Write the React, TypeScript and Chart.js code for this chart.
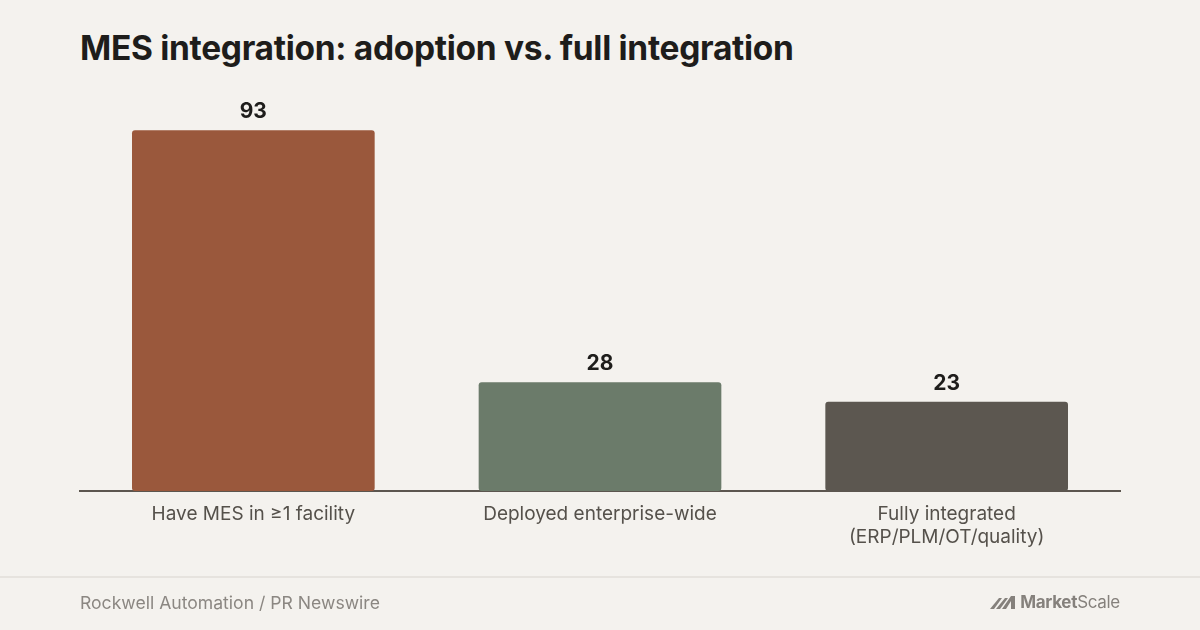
import React, { useEffect, useRef } from "react";
import { Chart, registerables } from "chart.js";

Chart.register(...registerables);

const categories: (string | string[])[] = [
  "Have MES in ≥1 facility",
  "Deployed enterprise-wide",
  ["Fully integrated", "(ERP/PLM/OT/quality)"],
];
const values: number[] = [93, 28, 23];
const barColors: string[] = ["#9A583C", "#6B7B6A", "#5C5750"];

const FONT = "Inter, 'Noto Sans', sans-serif";

const valueLabelPlugin = {
  id: "valueLabels",
  afterDatasetsDraw(chart: any) {
    const { ctx } = chart;
    const meta = chart.getDatasetMeta(0);
    ctx.save();
    ctx.font = `700 21px ${FONT}`;
    ctx.fillStyle = "#1E1D1B";
    ctx.textAlign = "center";
    ctx.textBaseline = "bottom";
    meta.data.forEach((bar: any, i: number) => {
      ctx.fillText(String(values[i]), bar.x, bar.y - 8);
    });
    ctx.restore();
  },
};

export default function App() {
  const canvasRef = useRef<HTMLCanvasElement | null>(null);

  useEffect(() => {
    document.body.style.margin = "0";
    const canvas = canvasRef.current;
    if (!canvas) return;
    const chart = new Chart(canvas, {
      type: "bar",
      data: {
        labels: categories,
        datasets: [
          {
            data: values,
            backgroundColor: barColors,
            borderRadius: 3,
            borderSkipped: false,
            barPercentage: 0.7,
            categoryPercentage: 1,
          },
        ],
      },
      options: {
        animation: false,
        responsive: false,
        maintainAspectRatio: false,
        layout: { padding: { left: 80, right: 80, top: 103, bottom: 0 } },
        plugins: {
          legend: { display: false },
          tooltip: { enabled: false },
          title: { display: false },
        },
        scales: {
          x: {
            grid: { display: false, drawTicks: false },
            border: { display: true, color: "#5C564F", width: 2 },
            ticks: {
              color: "#55514B",
              font: { family: FONT, size: 19, lineHeight: 1.2 },
              padding: 12,
              maxRotation: 0,
              autoSkip: false,
            },
            afterFit: (scale: any) => {
              scale.height = 139;
            },
          },
          y: {
            display: false,
            min: 0,
            max: 100,
          },
        },
      },
      plugins: [valueLabelPlugin],
    });
    return () => chart.destroy();
  }, []);

  return (
    <div
      style={{
        position: "relative",
        width: 1200,
        height: 630,
        background: "#F4F2EE",
        overflow: "hidden",
        fontFamily: FONT,
      }}
    >
      <div
        style={{
          position: "absolute",
          left: 80,
          top: 28,
          fontSize: 33.5,
          fontWeight: 700,
          color: "#1E1D1B",
          letterSpacing: -0.3,
          whiteSpace: "nowrap",
        }}
      >
        MES integration: adoption vs. full integration
      </div>
      <canvas
        ref={canvasRef}
        width={1200}
        height={630}
        style={{ position: "absolute", left: 0, top: 0, width: 1200, height: 630 }}
      />
      <div
        style={{
          position: "absolute",
          left: 0,
          top: 576,
          width: 1200,
          height: 2,
          background: "#E6E3DE",
        }}
      />
      <div
        style={{
          position: "absolute",
          left: 80,
          top: 592,
          fontSize: 17.6,
          color: "#8B8782",
          whiteSpace: "nowrap",
        }}
      >
        Rockwell Automation / PR Newswire
      </div>
      <div
        style={{
          position: "absolute",
          right: 80,
          top: 592,
          display: "flex",
          alignItems: "center",
          color: "#85817C",
          fontSize: 17,
          whiteSpace: "nowrap",
        }}
      >
        <svg width="28" height="14" viewBox="0 0 28 14" style={{ marginRight: 2 }}>
          <polygon points="0,14 9,3 12,3 4,14" fill="#85817C" />
          <polygon points="6,14 15,3 18,3 10,14" fill="#85817C" />
          <polygon points="12,14 21,1 25,1 25,14 21,14 21,6 16,14" fill="#85817C" />
        </svg>
        <span style={{ fontWeight: 700, letterSpacing: -0.3 }}>Market</span>
        <span style={{ fontWeight: 400, letterSpacing: -0.3 }}>Scale</span>
      </div>
    </div>
  );
}
